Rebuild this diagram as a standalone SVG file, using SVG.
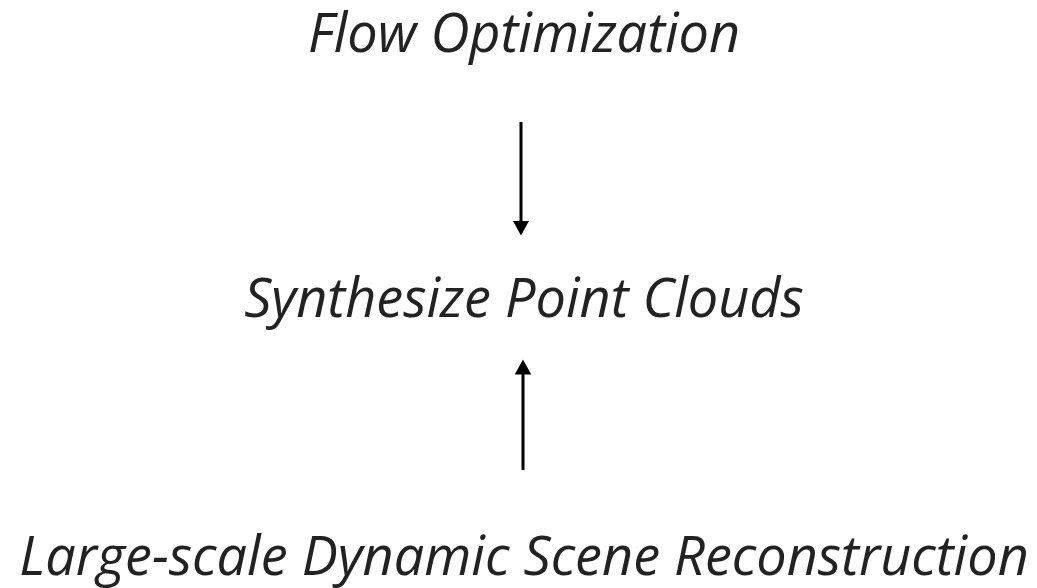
<svg xmlns="http://www.w3.org/2000/svg" width="1037" height="588" viewBox="0 0 1037 588">
<style>
.lbl{font-family:"Open Sans","Noto Sans",sans-serif;font-style:italic;font-size:54px;fill:#222;text-anchor:middle}
.edge{stroke:#000;stroke-width:3;fill:none}
</style>
<defs>
<marker id="ah" markerWidth="6" markerHeight="6" refX="0.5" refY="2.75" orient="auto" markerUnits="strokeWidth">
<path d="M0,0 L5,2.75 L0,5.5 Z" fill="#000"/>
</marker>
</defs>
<rect width="1037" height="588" fill="#fff"/>
<g id="connectors">
<line class="edge" x1="521" y1="122" x2="521" y2="222" marker-end="url(#ah)"/>
<line class="edge" x1="523" y1="470" x2="523" y2="373" marker-end="url(#ah)"/>
</g>
<g id="flow"><text class="lbl" x="524" y="52">Flow Optimization</text></g>
<g id="synth"><text class="lbl" x="524" y="317">Synthesize Point Clouds</text></g>
<g id="large"><text class="lbl" x="524" y="575">Large-scale Dynamic Scene Reconstruction</text></g>
</svg>
